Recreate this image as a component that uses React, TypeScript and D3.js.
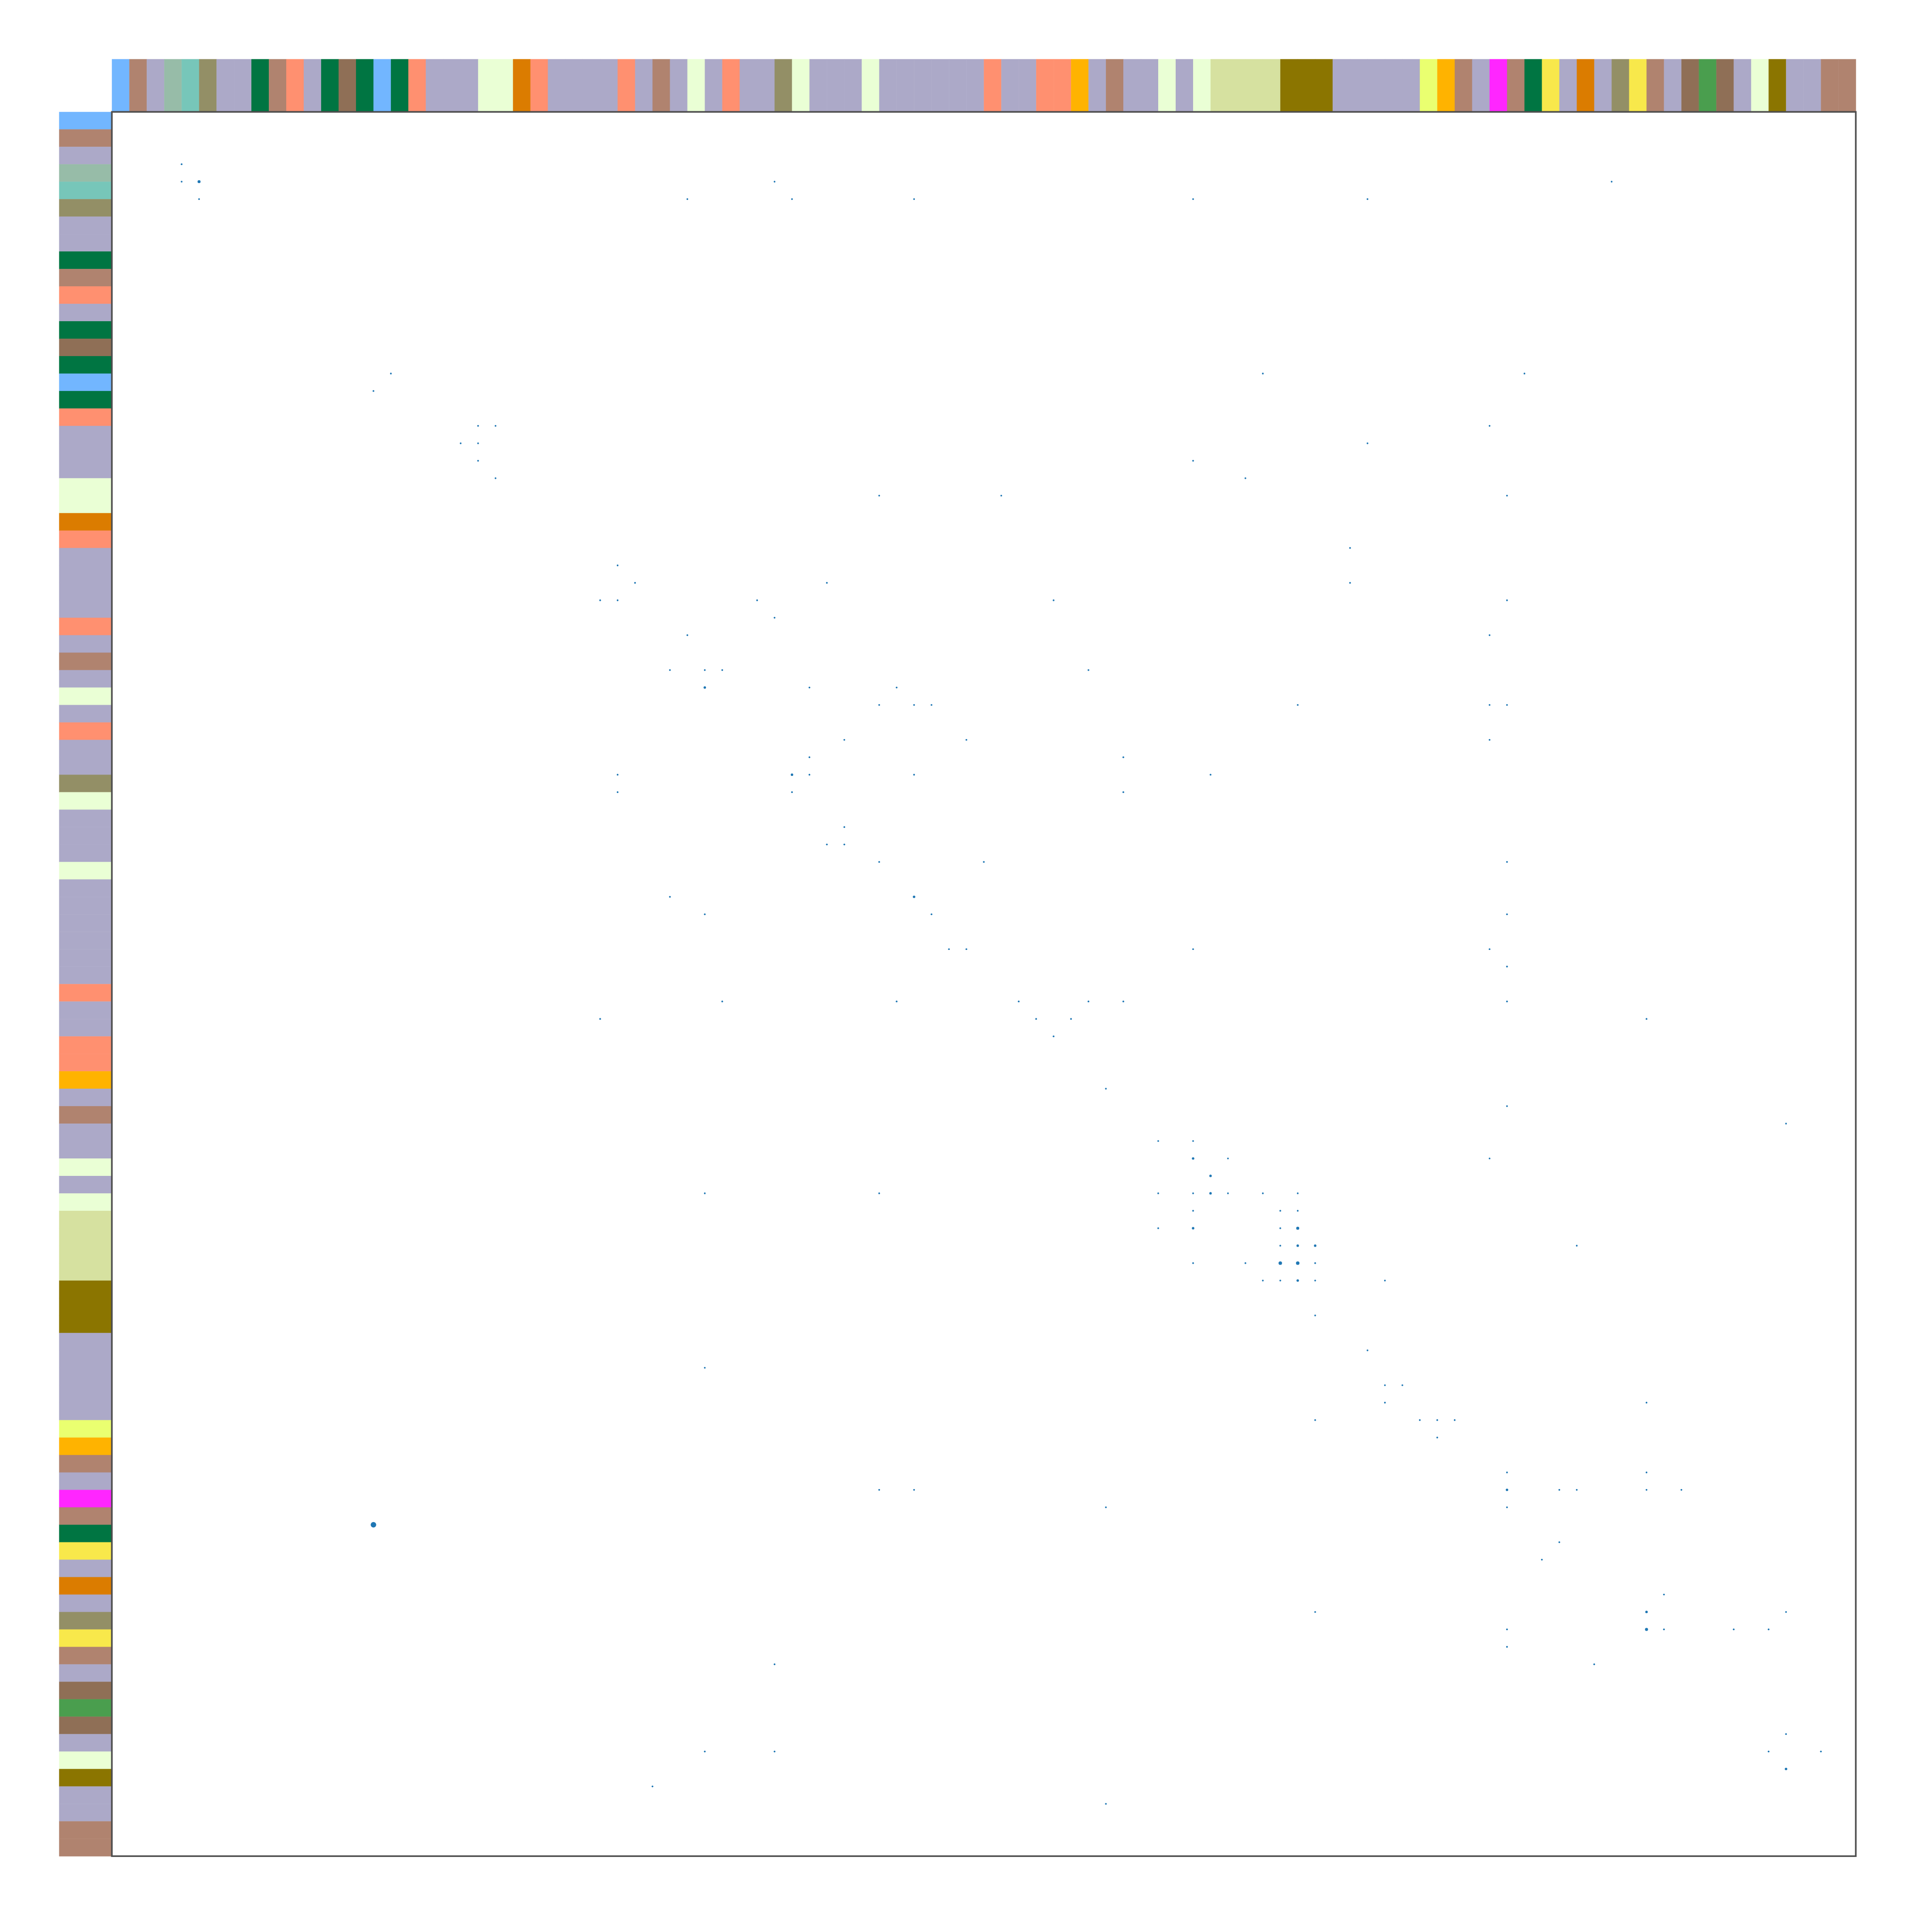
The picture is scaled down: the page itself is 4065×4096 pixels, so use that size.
import React from "react";
import * as d3 from "d3";

// group of each of the 100 nodes, in matrix order (same order on both axes)
const nodeGroups = [
  "A", "B", "C", "D", "E", "F", "C", "C", "G", "B",
  "H", "C", "G", "I", "G", "A", "G", "H", "C", "C",
  "C", "J", "J", "K", "H", "C", "C", "C", "C", "H",
  "C", "B", "C", "J", "C", "H", "C", "C", "F", "J",
  "C", "C", "C", "J", "C", "C", "C", "C", "C", "C",
  "H", "C", "C", "H", "H", "L", "C", "B", "C", "C",
  "J", "C", "J", "M", "M", "M", "M", "N", "N", "N",
  "C", "C", "C", "C", "C", "O", "L", "B", "C", "P",
  "B", "G", "Q", "C", "K", "C", "F", "Q", "B", "C",
  "I", "R", "I", "C", "J", "N", "C", "C", "B", "B",
];

const groupNames = ["A", "B", "C", "D", "E", "F", "G", "H", "I", "J", "K", "L", "M", "N", "O", "P", "Q", "R"];
const groupColors = [
  "#72b6ff", "#b0836f", "#aca9c8", "#97bca8", "#77c6b9", "#938f66",
  "#007542", "#ff9070", "#8f6f56", "#eaffd5", "#db7c00", "#ffb300",
  "#d6e1a0", "#8b7500", "#eaff70", "#ff26ff", "#f8e84b", "#4a9e4e",
];

// [column, row, weight]
const cells: [number, number, number][] = [
  [4, 3, 1], [4, 4, 1], [5, 4, 3], [38, 4, 1], [86, 4, 1],
  [5, 5, 1], [33, 5, 1], [39, 5, 1], [46, 5, 1], [62, 5, 1], [72, 5, 1],
  [16, 15, 1], [66, 15, 1], [81, 15, 1], [15, 16, 1],
  [21, 18, 1], [22, 18, 1], [79, 18, 1],
  [20, 19, 1], [21, 19, 1], [72, 19, 1],
  [21, 20, 1], [62, 20, 1],
  [22, 21, 1], [65, 21, 1],
  [44, 22, 1], [51, 22, 1], [80, 22, 1],
  [71, 25, 1],
  [29, 26, 1],
  [30, 27, 1], [41, 27, 1], [71, 27, 1],
  [28, 28, 1], [29, 28, 1], [37, 28, 1], [54, 28, 1], [80, 28, 1],
  [38, 29, 1],
  [33, 30, 1], [79, 30, 1],
  [32, 32, 1], [34, 32, 1], [35, 32, 1], [56, 32, 1],
  [34, 33, 2], [40, 33, 1], [45, 33, 1],
  [44, 34, 1], [46, 34, 1], [47, 34, 1], [68, 34, 1], [79, 34, 1], [80, 34, 1],
  [42, 36, 1], [49, 36, 1], [79, 36, 1],
  [40, 37, 1], [58, 37, 1],
  [29, 38, 1], [39, 38, 2], [40, 38, 1], [46, 38, 1], [63, 38, 1],
  [29, 39, 1], [39, 39, 1], [58, 39, 1],
  [42, 41, 1],
  [41, 42, 1], [42, 42, 1],
  [44, 43, 1], [50, 43, 1], [80, 43, 1],
  [32, 45, 1], [46, 45, 2],
  [34, 46, 1], [47, 46, 1], [80, 46, 1],
  [48, 48, 1], [49, 48, 1], [62, 48, 1], [79, 48, 1],
  [80, 49, 1],
  [35, 51, 1], [45, 51, 1], [52, 51, 1], [56, 51, 1], [58, 51, 1], [80, 51, 1],
  [28, 52, 1], [53, 52, 1], [55, 52, 1], [88, 52, 1],
  [54, 53, 1],
  [57, 56, 1],
  [80, 57, 1],
  [96, 58, 1],
  [60, 59, 1], [62, 59, 1],
  [62, 60, 2], [64, 60, 1], [79, 60, 1],
  [63, 61, 2],
  [34, 62, 1], [44, 62, 1], [60, 62, 1], [62, 62, 1], [63, 62, 2], [64, 62, 1], [66, 62, 1], [68, 62, 1],
  [62, 63, 1], [67, 63, 1], [68, 63, 1],
  [60, 64, 1], [62, 64, 2], [67, 64, 1], [68, 64, 3],
  [67, 65, 1], [68, 65, 2], [69, 65, 2], [84, 65, 1],
  [62, 66, 1], [65, 66, 1], [67, 66, 4], [68, 66, 4], [69, 66, 1],
  [66, 67, 1], [67, 67, 1], [68, 67, 2], [69, 67, 1], [73, 67, 1],
  [69, 69, 1],
  [72, 71, 1],
  [34, 72, 1],
  [73, 73, 1], [74, 73, 1],
  [73, 74, 1], [88, 74, 1],
  [69, 75, 1], [75, 75, 1], [76, 75, 1], [77, 75, 1],
  [76, 76, 1],
  [80, 78, 1], [88, 78, 1],
  [44, 79, 1], [46, 79, 1], [80, 79, 2], [83, 79, 1], [84, 79, 1], [88, 79, 1], [90, 79, 1],
  [57, 80, 1], [80, 80, 1],
  [15, 81, 10],
  [83, 82, 1],
  [82, 83, 1],
  [89, 85, 1],
  [69, 86, 1], [88, 86, 2], [96, 86, 1],
  [80, 87, 1], [88, 87, 3], [89, 87, 1], [93, 87, 1], [95, 87, 1],
  [80, 88, 1],
  [38, 89, 1], [85, 89, 1],
  [96, 93, 1],
  [34, 94, 1], [38, 94, 1], [95, 94, 1], [98, 94, 1],
  [96, 95, 2],
  [31, 96, 1],
  [57, 97, 1],
];

const WIDTH = 4065;
const HEIGHT = 4096;

export default function App() {
  const n = nodeGroups.length;
  const x0 = 237.2;
  const size = 3698;
  const stripTop = 125.3;
  const stripSize = x0 - stripTop;

  const pos = d3.scaleLinear().domain([0, n]).range([x0, x0 + size]);
  const color = d3.scaleOrdinal<string, string>().domain(groupNames).range(groupColors);
  const radius = d3.scaleSqrt().domain([0, 1]).range([0, 1.85]);

  const idx = d3.range(n);

  return (
    <svg
      width={WIDTH}
      height={HEIGHT}
      style={{ position: "absolute", left: 0, top: 0, background: "#fff" }}
    >
      {/* top strip */}
      <g>
        {idx.map(i => (
          <rect
            key={"t" + i}
            x={pos(i)}
            y={stripTop}
            width={pos(i + 1) - pos(i) + 0.5}
            height={stripSize}
            fill={color(nodeGroups[i])}
          />
        ))}
      </g>
      {/* left strip */}
      <g>
        {idx.map(i => (
          <rect
            key={"l" + i}
            x={stripTop}
            y={pos(i)}
            width={stripSize}
            height={pos(i + 1) - pos(i) + 0.5}
            fill={color(nodeGroups[i])}
          />
        ))}
      </g>
      <rect x={x0} y={x0} width={size} height={size} fill="#fff" />
      <g>
        {cells.map(([c, r, w], i) => (
          <circle key={i} cx={pos(c)} cy={pos(r)} r={radius(w)} fill="#1f77b4" />
        ))}
      </g>
      <rect
        x={x0}
        y={x0}
        width={size}
        height={size}
        fill="none"
        stroke="#4d4d4d"
        strokeWidth={3.4}
      />
    </svg>
  );
}
